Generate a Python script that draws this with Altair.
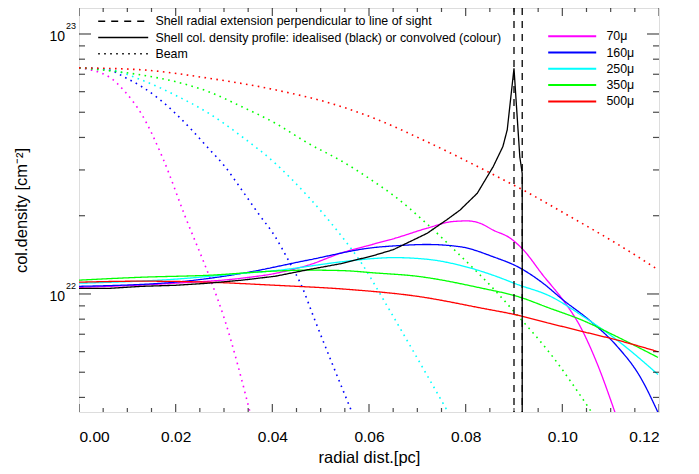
import altair as alt
import pandas as pd

FONT = "Liberation Sans"

# ---------------- data (radial distance [pc], column density [cm^-2]) ----------------
wavelengths = ["70μ", "160μ", "250μ", "350μ", "500μ"]
line_colors = ["#ff00ff", "#0000ff", "#00ffff", "#00ff00", "#ff0000"]

kind_labels = [
    "Shell radial extension perpendicular to line of sight",
    "Shell col. density profile: idealised (black) or convolved (colour)",
    "Beam",
]

# idealised shell profile (black)
r_profile = [0.000, 0.006, 0.013, 0.020, 0.0267, 0.0337, 0.0406, 0.0474, 0.0544, 0.0612, 0.0650,
             0.0720, 0.0761, 0.0788, 0.0824, 0.0857, 0.0877, 0.0886, 0.0900, 0.0912, 0.0917, 0.0917]
n_profile = [1.05e22, 1.05e22, 1.07e22, 1.08e22, 1.10e22, 1.13e22, 1.17e22, 1.24e22, 1.31e22, 1.41e22, 1.48e22,
             1.71e22, 1.93e22, 2.10e22, 2.44e22, 3.09e22, 3.69e22, 4.28e22, 7.38e22, 3.37e22, 2.91e22, 1.0e21]

# shell radial extension
shell_edges = [0.0900, 0.0917]

# convolved profiles
r_conv_70 = [0.000, 0.0199, 0.0337, 0.0406, 0.0474, 0.0544, 0.0612, 0.0650, 0.0720, 0.0774, 0.0803,
             0.0830, 0.0857, 0.0892, 0.0919, 0.0960, 0.1001, 0.1037, 0.1072, 0.1109]
n_conv_70 = [1.06e22, 1.10e22, 1.15e22, 1.20e22, 1.29e22, 1.44e22, 1.56e22, 1.63e22, 1.79e22, 1.90e22, 1.91e22,
             1.87e22, 1.76e22, 1.64e22, 1.48e22, 1.18e22, 0.95e22, 0.75e22, 0.54e22, 0.35e22]

r_conv_160 = [0.000, 0.0199, 0.0337, 0.0474, 0.0612, 0.0650, 0.0720, 0.0788, 0.0857, 0.0912, 0.0960,
              0.1001, 0.1057, 0.1113, 0.1161, 0.1198]
n_conv_160 = [1.07e22, 1.11e22, 1.20e22, 1.35e22, 1.51e22, 1.53e22, 1.55e22, 1.52e22, 1.39e22, 1.26e22, 1.10e22,
              0.95e22, 0.79e22, 0.63e22, 0.48e22, 0.35e22]

r_conv_250 = [0.000, 0.0199, 0.0337, 0.0406, 0.0544, 0.0612, 0.0650, 0.0720, 0.0788, 0.0857, 0.0906,
              0.0975, 0.1043, 0.1113, 0.1198]
n_conv_250 = [1.10e22, 1.14e22, 1.20e22, 1.23e22, 1.33e22, 1.37e22, 1.38e22, 1.36e22, 1.29e22, 1.18e22, 1.09e22,
              0.98e22, 0.82e22, 0.665e22, 0.49e22]

r_conv_350 = [0.000, 0.0130, 0.0267, 0.0406, 0.0474, 0.0544, 0.0612, 0.0699, 0.0836, 0.0906, 0.0975,
              0.1043, 0.1113, 0.1198]
n_conv_350 = [1.13e22, 1.16e22, 1.18e22, 1.225e22, 1.235e22, 1.23e22, 1.205e22, 1.17e22, 1.05e22, 0.98e22, 0.88e22,
              0.79e22, 0.685e22, 0.57e22]

r_conv_500 = [0.000, 0.0130, 0.0267, 0.0406, 0.0561, 0.0699, 0.0836, 0.0906, 0.0975, 0.1043, 0.1113, 0.1198]
n_conv_500 = [1.11e22, 1.12e22, 1.11e22, 1.08e22, 1.04e22, 0.98e22, 0.88e22, 0.83e22, 0.77e22, 0.716e22,
              0.665e22, 0.60e22]

# beams
r_beam_70 = [0.000, 0.0061, 0.0095, 0.0130, 0.0174, 0.0219, 0.0271, 0.0302, 0.0354]
n_beam_70 = [7.41e22, 6.86e22, 6.00e22, 4.90e22, 3.31e22, 2.00e22, 1.15e22, 0.79e22, 0.35e22]

r_beam_160 = [0.000, 0.0061, 0.0095, 0.0130, 0.0164, 0.0199, 0.0233, 0.0268, 0.0302, 0.0337, 0.0371,
              0.0406, 0.0433, 0.0461, 0.0485, 0.0565]
n_beam_160 = [7.41e22, 7.28e22, 6.81e22, 6.27e22, 5.66e22, 4.96e22, 4.28e22, 3.63e22, 3.09e22, 2.51e22, 2.04e22,
              1.66e22, 1.35e22, 1.07e22, 0.82e22, 0.35e22]

r_beam_250 = [0.000, 0.0061, 0.0130, 0.0199, 0.0268, 0.0337, 0.0406, 0.0474, 0.0544, 0.0585, 0.0630, 0.0699, 0.0764]
n_beam_250 = [7.41e22, 7.30e22, 6.65e22, 5.82e22, 4.96e22, 4.03e22, 3.18e22, 2.37e22, 1.66e22, 1.31e22, 0.95e22,
              0.57e22, 0.35e22]

r_beam_350 = [0.000, 0.0130, 0.0199, 0.0268, 0.0337, 0.0406, 0.0474, 0.0544, 0.0612, 0.0650, 0.0720,
              0.0788, 0.0857, 0.0899, 0.0975, 0.1061]
n_beam_350 = [7.41e22, 6.95e22, 6.56e22, 6.00e22, 5.25e22, 4.54e22, 3.80e22, 3.24e22, 2.69e22, 2.40e22, 1.86e22,
              1.41e22, 1.05e22, 0.86e22, 0.59e22, 0.35e22]

r_beam_500 = [0.000, 0.0130, 0.0268, 0.0406, 0.0544, 0.0612, 0.0720, 0.0857, 0.0926, 0.0995, 0.1133, 0.1198]
n_beam_500 = [7.41e22, 7.28e22, 6.76e22, 6.10e22, 5.25e22, 4.73e22, 3.85e22, 2.88e22, 2.47e22, 2.09e22, 1.48e22,
              1.24e22]

# axis ticks / labels
x_major = [0.00, 0.02, 0.04, 0.06, 0.08, 0.10, 0.12]
x_minor = [0.005, 0.010, 0.015, 0.025, 0.030, 0.035, 0.045, 0.050, 0.055, 0.065, 0.070, 0.075,
           0.085, 0.090, 0.095, 0.105, 0.110, 0.115]
y_major = [1e22, 1e23]
y_minor = [4e21, 5e21, 6e21, 7e21, 8e21, 9e21, 2e22, 3e22, 4e22, 5e22, 6e22, 7e22, 8e22, 9e22]
y_exponents = ["22", "23"]

x_domain = [0.0, 0.12]
y_domain = [3.5156e21, 1.2589e23]

# ---------------- build tables ----------------
conv = [(r_conv_70, n_conv_70), (r_conv_160, n_conv_160), (r_conv_250, n_conv_250),
        (r_conv_350, n_conv_350), (r_conv_500, n_conv_500)]
beams = [(r_beam_70, n_beam_70), (r_beam_160, n_beam_160), (r_beam_250, n_beam_250),
         (r_beam_350, n_beam_350), (r_beam_500, n_beam_500)]

conv_rows, beam_rows = [], []
for wl, (rs, ns) in zip(wavelengths, conv):
    for r, n in zip(rs, ns):
        conv_rows.append({"r": r, "n": n, "wl": wl, "kind": kind_labels[1], "series": "conv " + wl})
for wl, (rs, ns) in zip(wavelengths, beams):
    for r, n in zip(rs, ns):
        beam_rows.append({"r": r, "n": n, "wl": wl, "kind": kind_labels[2], "series": "beam " + wl})
df_conv = pd.DataFrame(conv_rows)
df_beam = pd.DataFrame(beam_rows)
df_prof = pd.DataFrame({"r": r_profile, "n": n_profile, "kind": kind_labels[1]})
df_edges = pd.DataFrame({"r": shell_edges, "kind": kind_labels[0]})

# ---------------- scales / axes (shared by every layer) ----------------
x_scale = alt.Scale(domain=x_domain, nice=False, zero=False)
y_scale = alt.Scale(type="log", domain=y_domain, nice=False)

x_axis = alt.Axis(values=x_major, format=".2f", ticks=False, domain=False, grid=False,
                  labelFont=FONT, labelFontSize=15.5, labelColor="black", labelPadding=17,
                  title="radial dist.[pc]", titleFont=FONT, titleFontSize=16.5, titleFontWeight="normal",
                  titleColor="black", titlePadding=5)
y_axis = alt.Axis(ticks=False, labels=False, domain=False, grid=False,
                  title="col.density [cm⁻²]", titleFont=FONT, titleFontSize=16.5, titleFontWeight="normal",
                  titleColor="black", titlePadding=50)


def X(field):
    return alt.X(field, type="quantitative", scale=x_scale, axis=x_axis)


def Y(field):
    return alt.Y(field, type="quantitative", scale=y_scale, axis=y_axis)


dash_enc = alt.StrokeDash(
    "kind:N",
    scale=alt.Scale(domain=kind_labels, range=[[7, 6], [1, 0], [1.6, 4.4]]),
    legend=alt.Legend(title=None, orient="none", legendX=38, legendY=7, padding=0,
                      symbolType="M-5,0H5", symbolSize=100, symbolStrokeWidth=1.5,
                      symbolStrokeColor="black", labelFont=FONT, labelFontSize=12.4,
                      labelColor="black", labelOffset=26, rowPadding=3.3, labelLimit=600),
)
color_enc = alt.Color(
    "wl:N",
    scale=alt.Scale(domain=wavelengths, range=line_colors),
    legend=alt.Legend(title=None, orient="none", legendX=487, legendY=22, padding=0,
                      symbolType="M-5,0H5", symbolSize=92.16, symbolStrokeWidth=2,
                      labelFont=FONT, labelFontSize=12.4, labelColor="black",
                      labelOffset=28, rowPadding=3.3),
)

beam_layer = alt.Chart(df_beam).mark_line(clip=True, strokeWidth=1.6, interpolate="monotone").encode(
    x=X("r"), y=Y("n"), color=color_enc, strokeDash=dash_enc, detail="series:N")
conv_layer = alt.Chart(df_conv).mark_line(clip=True, strokeWidth=1.3, interpolate="monotone").encode(
    x=X("r"), y=Y("n"), color=color_enc, strokeDash=dash_enc, detail="series:N")
prof_layer = alt.Chart(df_prof).mark_line(clip=True, strokeWidth=1.3, color="black").encode(
    x=X("r"), y=Y("n"), strokeDash=dash_enc)
edge_layer = alt.Chart(df_edges).mark_rule(strokeWidth=1.3, color="black").encode(
    x=X("r"), strokeDash=dash_enc)


# ---------------- inward ticks on all four sides ----------------
def ticks_y(values, edge, length):
    d = pd.DataFrame({"v": values, "edge": edge})
    return alt.Chart(d).mark_tick(clip=True, orient="horizontal", size=2 * length, thickness=1.2,
                                  color="black").encode(x=X("edge"), y=Y("v"))


def ticks_x(values, edge, length):
    d = pd.DataFrame({"v": values, "edge": edge})
    return alt.Chart(d).mark_tick(clip=True, orient="vertical", size=2 * length, thickness=1.2,
                                  color="black").encode(x=X("v"), y=Y("edge"))


tick_layers = [
    ticks_y(y_major, x_domain[0], 12), ticks_y(y_minor, x_domain[0], 6),
    ticks_y(y_major, x_domain[1], 12), ticks_y(y_minor, x_domain[1], 6),
    ticks_x(x_major, y_domain[0], 8), ticks_x(x_minor, y_domain[0], 4),
    ticks_x(x_major, y_domain[1], 8), ticks_x(x_minor, y_domain[1], 4),
]

# ---------------- y tick labels 10^22, 10^23 ----------------
df_ylab = pd.DataFrame({"v": y_major, "exp": y_exponents, "edge": x_domain[0]})
ylab_base = alt.Chart(df_ylab).mark_text(align="right", baseline="alphabetic", dx=-14, dy=7,
                                         font=FONT, fontSize=14, color="black").encode(
    x=X("edge"), y=Y("v"), text=alt.value("10"))
ylab_exp = alt.Chart(df_ylab).mark_text(align="left", baseline="alphabetic", dx=-13, dy=-4.5,
                                        font=FONT, fontSize=9, color="black").encode(
    x=X("edge"), y=Y("v"), text="exp:N")

chart = alt.layer(
    beam_layer, conv_layer, prof_layer, edge_layer, *tick_layers, ylab_base, ylab_exp
).properties(
    width=580, height=404,
    autosize=alt.AutoSizeParams(type="none"),
    padding={"left": 71, "top": 0, "right": 30, "bottom": 58},
).configure_view(
    stroke="black", strokeWidth=1.5
).configure(
    background="white"
)

chart.save("out.html", embed_options={"renderer": "svg", "actions": False})
